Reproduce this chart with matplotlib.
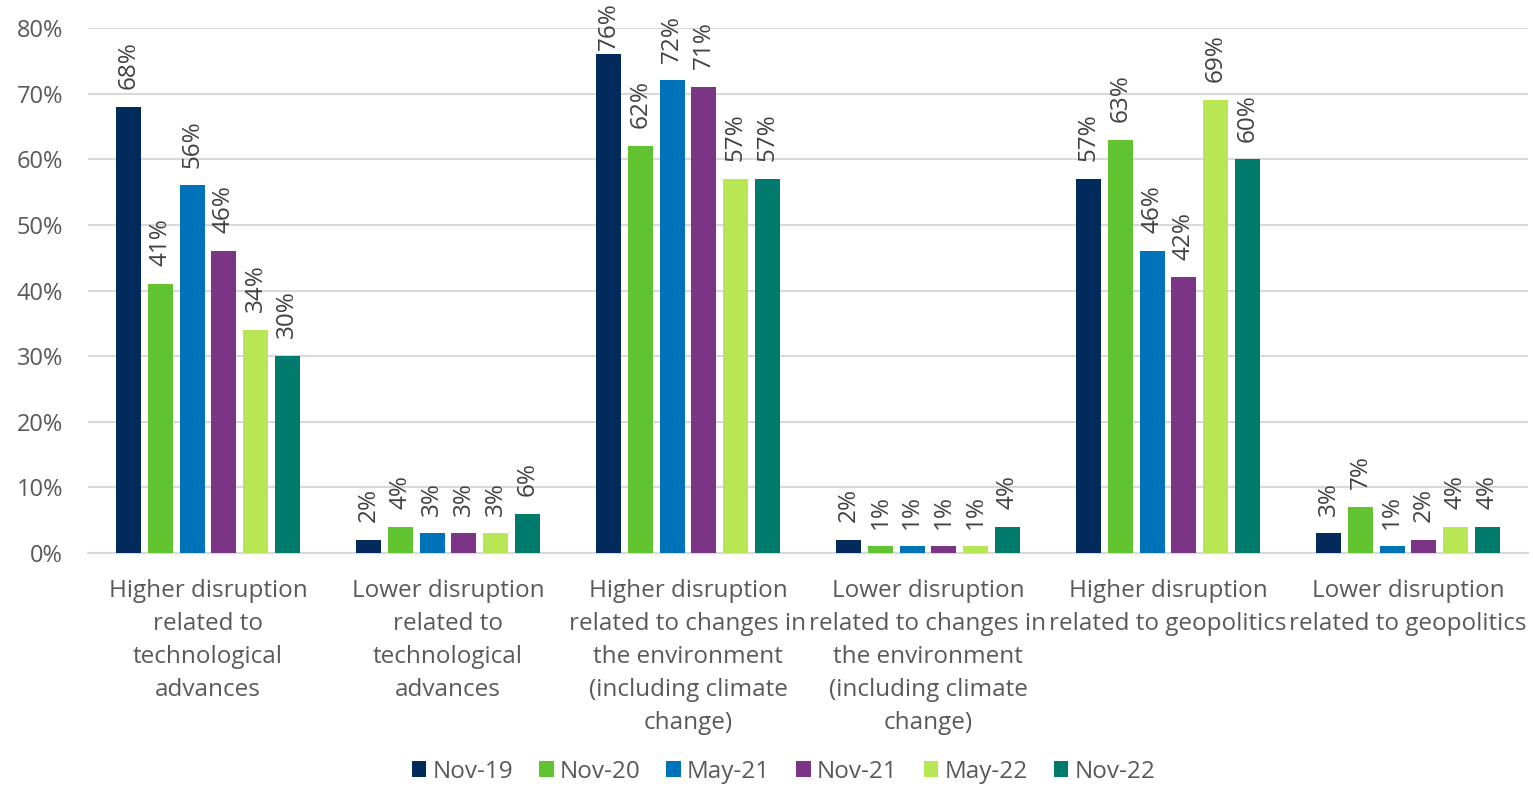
import matplotlib
matplotlib.use("Agg")
import matplotlib.pyplot as plt
import numpy as np

plt.rcParams["font.family"] = ["Open Sans", "DejaVu Sans"]

categories = [
    "Higher disruption\nrelated to\ntechnological\nadvances",
    "Lower disruption\nrelated to\ntechnological\nadvances",
    "Higher disruption\nrelated to changes in\nthe environment\n(including climate\nchange)",
    "Lower disruption\nrelated to changes in\nthe environment\n(including climate\nchange)",
    "Higher disruption\nrelated to geopolitics",
    "Lower disruption\nrelated to geopolitics",
]
series_names = ["Nov-19", "Nov-20", "May-21", "Nov-21", "May-22", "Nov-22"]
values = {
    "Nov-19": [68, 2, 76, 2, 57, 3],
    "Nov-20": [41, 4, 62, 1, 63, 7],
    "May-21": [56, 3, 72, 1, 46, 1],
    "Nov-21": [46, 3, 71, 1, 42, 2],
    "May-22": [34, 3, 57, 1, 69, 4],
    "Nov-22": [30, 6, 57, 4, 60, 4],
}
colors = ["#002b5c", "#62c331", "#0072b9", "#7b3585", "#b8e655", "#007a6b"]

fig = plt.figure(figsize=(15.33, 7.86), dpi=100)
ax = fig.add_axes([0.0574, 0.2964, 0.9393, 0.668])

x = np.arange(len(categories))
pitch = 0.132
width = 0.104
for i, name in enumerate(series_names):
    offs = (i - 2.5) * pitch
    bars = ax.bar(x + offs, values[name], width=width, color=colors[i], label=name, zorder=3)
    for b, v in zip(bars, values[name]):
        # labels sit above the bar, pushed down near the top so they stay in the figure
        y = min(v + 2.7, 76.6)
        ax.text(b.get_x() + b.get_width() / 2, y, f"{v}%", rotation=90,
                ha="center", va="bottom", fontsize=17.5, color="#404040", zorder=4)

ax.set_xlim(-0.5, 5.5)
ax.set_ylim(0, 80)
ax.set_yticks(np.arange(0, 81, 10))
ax.set_yticklabels([f"{t}%" for t in range(0, 81, 10)])
ax.yaxis.grid(True, color="#d9d9d9", lw=1.5, zorder=0)
ax.set_axisbelow(True)
for s in ["top", "right", "left"]:
    ax.spines[s].set_visible(False)
ax.spines["bottom"].set_color("#d9d9d9")
ax.spines["bottom"].set_linewidth(1.5)
ax.tick_params(axis="y", length=0, labelsize=17, labelcolor="#595959", pad=18)
ax.set_xticks(x)
ax.set_xticklabels(categories, fontsize=17.5, color="#595959", linespacing=1.5)
ax.tick_params(axis="x", length=0, pad=19)

fig.legend(loc="lower center", bbox_to_anchor=(0.511, 0.0), ncol=6, frameon=False,
           fontsize=17.5, labelcolor="#595959", handlelength=0.6, handleheight=0.6,
           handletextpad=0.25, columnspacing=1.07, borderaxespad=0, borderpad=0.1)

fig.savefig("out.png", dpi=100)
